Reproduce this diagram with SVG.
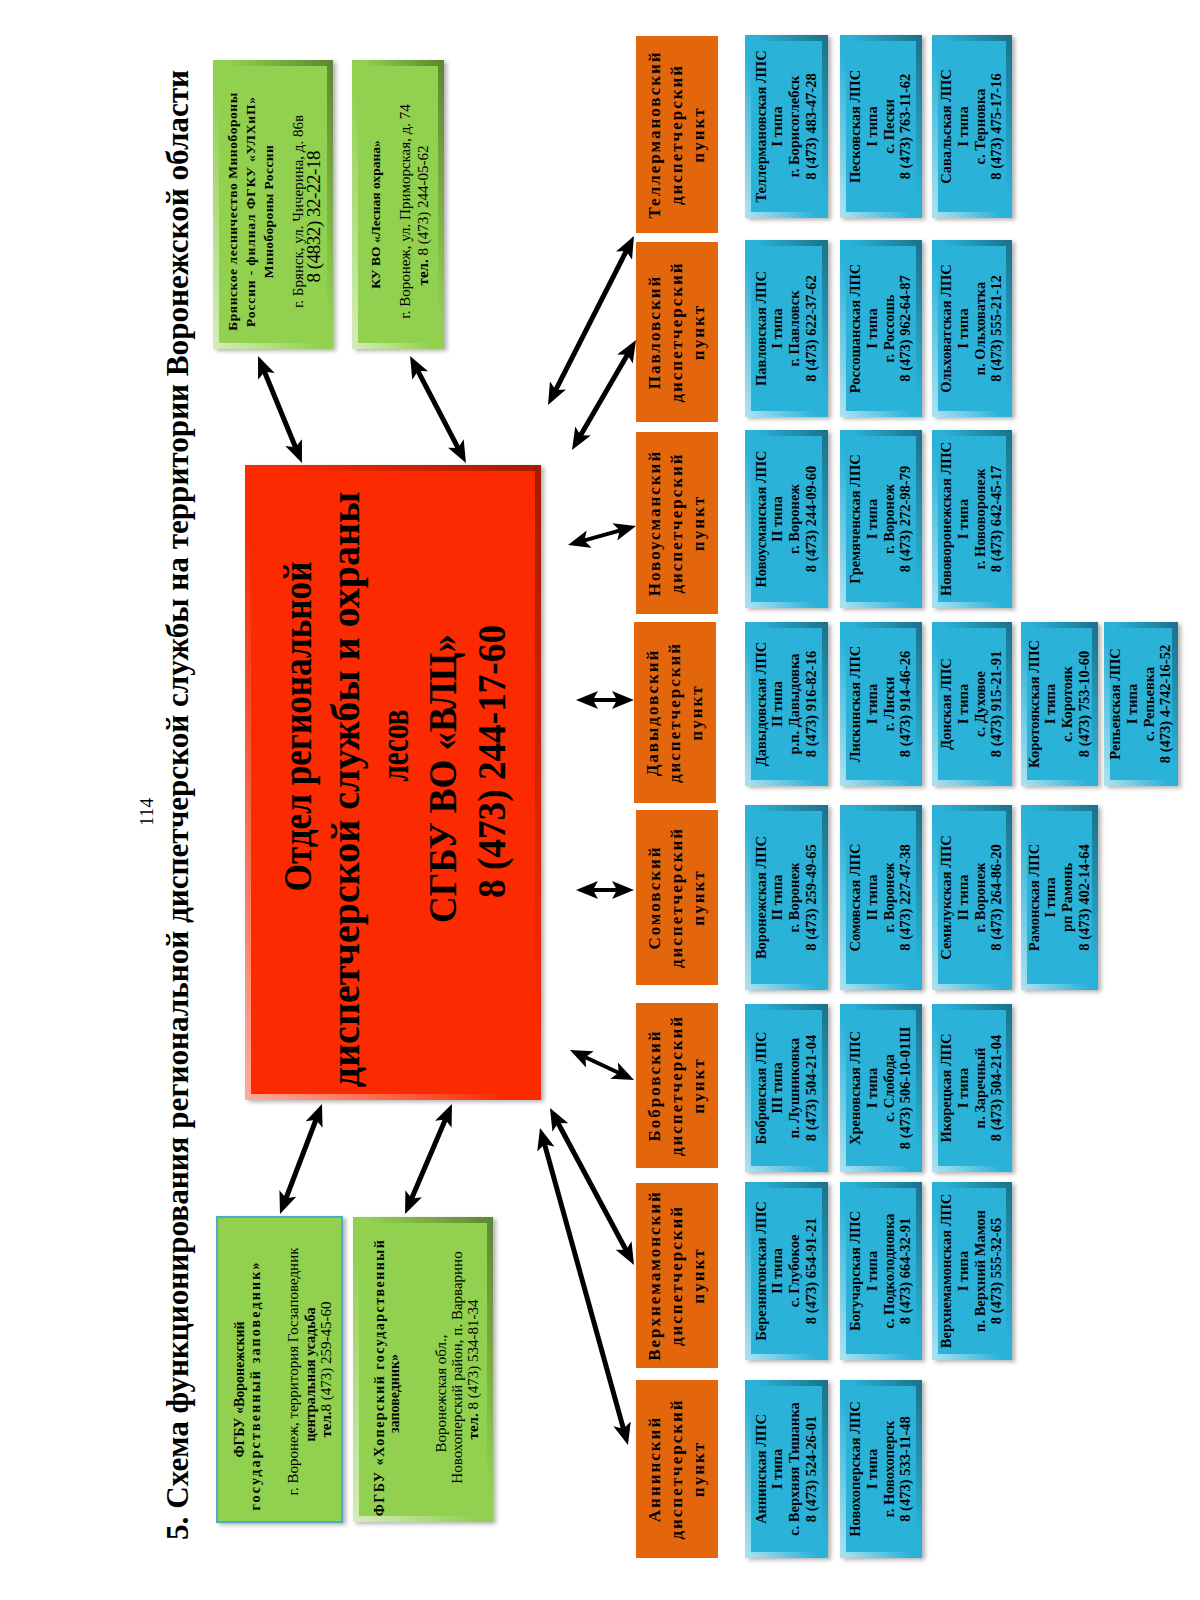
<svg xmlns="http://www.w3.org/2000/svg" width="1200" height="1600" viewBox="0 0 1200 1600">
<defs>
<linearGradient id="bevG" x1="0" y1="1" x2="1" y2="0">
<stop offset="0" stop-color="#fff" stop-opacity="0.6"/>
<stop offset="0.45" stop-color="#fff" stop-opacity="0"/>
<stop offset="0.55" stop-color="#000" stop-opacity="0"/>
<stop offset="1" stop-color="#000" stop-opacity="0.35"/>
</linearGradient>
<filter id="sh" x="-10%" y="-10%" width="130%" height="130%">
<feDropShadow dx="3" dy="2" stdDeviation="2" flood-color="#000" flood-opacity="0.3"/>
</filter>
<marker id="ah" viewBox="0 0 22 18" markerWidth="22" markerHeight="18" refX="15" refY="9" markerUnits="userSpaceOnUse" orient="auto-start-reverse">
<path d="M0,0 L22,9 L0,18 L5,9 Z" fill="#000"/>
</marker>
</defs>
<style>
.t{font-family:"Liberation Serif","Times New Roman",serif;fill:#000}
.bd{font-weight:bold}
.blue{fill:#2bb2d8;filter:url(#sh)}
.orange{fill:#e3660c}
.green{fill:#92d050;filter:url(#sh)}
.red{fill:#fb2b00;filter:url(#sh)}
.bev{fill:none;stroke:url(#bevG);stroke-width:6}
.arr{stroke:#000;stroke-width:5;fill:none;marker-start:url(#ah);marker-end:url(#ah)}
.arr2{stroke:#000;stroke-width:4;fill:none;marker-start:url(#ah);marker-end:url(#ah)}
.lp{font-size:14.5px;font-weight:bold}
.dp{font-size:17px;font-weight:bold;letter-spacing:2px}
.rd{font-size:40px;font-weight:bold}
</style>
<rect width="1200" height="1600" fill="#fff"/>

<text class="t" font-size="19" transform="translate(153,812) rotate(-90)" text-anchor="middle">114</text>
<text class="t bd" font-size="32" transform="translate(188,1540) rotate(-90)" textLength="1470" lengthAdjust="spacingAndGlyphs">5. Схема функционирования региональной диспетчерской службы на территории Воронежской области</text>

<g id="connectors">
<path class="arr" d="M260.7,362.5 L299.3,456.5"/>
<path class="arr" d="M413.3,362.2 L462.7,456.8"/>
<path class="arr" d="M282.5,1207.5 L319.5,1110.5"/>
<path class="arr" d="M407.8,1207.6 L449.2,1110.4"/>
<path class="arr" d="M551.2,398.8 L630.8,242.2"/>
<path class="arr" d="M575.5,444 L632.5,346"/>
<path class="arr2" d="M574.7,543.1 L629.3,527.9"/>
<path class="arr2" d="M583,700 L627,700"/>
<path class="arr2" d="M583,890 L627,890"/>
<path class="arr2" d="M576.3,1053 L627.7,1077"/>
<path class="arr" d="M553.3,1114.2 L630.7,1258.8"/>
<path class="arr" d="M541.9,1134.7 L626.1,1438.3"/>
</g>

<g id="green-bryansk">
<rect class="green" x="213" y="60" width="120" height="289"/>
<rect class="bev" x="216" y="63" width="114" height="283"/>
<text class="t" transform="translate(273,204.5) rotate(-90)" text-anchor="middle">
<tspan class="bd" font-size="13.5" x="-5" y="-36" textLength="238" lengthAdjust="spacing">Брянское лесничество Минобороны</tspan>
<tspan class="bd" font-size="13.5" x="-5" y="-18" textLength="230" lengthAdjust="spacing">России - филиал ФГКУ «УЛХиП»</tspan>
<tspan class="bd" font-size="13.5" x="-5" y="0" textLength="133" lengthAdjust="spacing">Минобороны России</tspan>
<tspan font-size="15" x="-5" y="30">г. Брянск, ул. Чичерина, д. 86в</tspan>
<tspan font-size="19" x="-12" y="47" textLength="132" lengthAdjust="spacing">8 (4832) 32-22-18</tspan>
</text>
</g>

<g id="green-kuvo">
<rect class="green" x="352" y="60" width="92" height="289"/>
<rect class="bev" x="355" y="63" width="86" height="283"/>
<text class="t" transform="translate(398,204.5) rotate(-90)" text-anchor="middle">
<tspan class="bd" font-size="13.5" x="-8" y="-18">КУ ВО «Лесная охрана»</tspan>
<tspan font-size="15" x="-5" y="12">г. Воронеж, ул. Приморская, д. 74</tspan>
<tspan font-size="15" x="-11" y="30"><tspan class="bd">тел.</tspan> 8 (473) 244-05-62</tspan>
</text>
</g>

<g id="green-vgpbz">
<rect class="green" x="217" y="1217" width="125" height="305" stroke="#4bacc6" stroke-width="2"/>
<text class="t" transform="translate(279.5,1369.5) rotate(-90)" text-anchor="middle">
<tspan class="bd" font-size="14" x="-18" y="-36">ФГБУ  «Воронежский</tspan>
<tspan class="bd" font-size="14" x="-14" y="-20" textLength="248" lengthAdjust="spacing">государственный заповедник»</tspan>
<tspan font-size="15" x="0" y="18">г. Воронеж, территория Госзаповедник</tspan>
<tspan class="bd" font-size="14" x="-3" y="35">центральная усадьба</tspan>
<tspan font-size="15" x="0" y="51"><tspan class="bd">тел.</tspan>8 (473) 259-45-60</tspan>
</text>
</g>

<g id="green-khoper">
<rect class="green" x="353" y="1217" width="140" height="305"/>
<rect class="bev" x="356" y="1220" width="134" height="299"/>
<text class="t" transform="translate(423,1369.5) rotate(-90)" text-anchor="middle">
<tspan class="bd" font-size="14" x="-6" y="-39" textLength="276" lengthAdjust="spacing">ФГБУ «Хоперский государственный</tspan>
<tspan class="bd" font-size="14" x="-22" y="-24">заповедник»</tspan>
<tspan font-size="15" x="-22" y="23">Воронежская обл.,</tspan>
<tspan font-size="15" x="4" y="39">Новохоперский район, п. Варварино</tspan>
<tspan font-size="15" x="0" y="55"><tspan class="bd">тел.</tspan> 8 (473) 534-81-34</tspan>
</text>
</g>

<g id="red-center">
<rect class="red" x="245" y="465" width="296" height="635"/>
<rect class="bev" x="248" y="468" width="290" height="629"/>
<text class="t rd" transform="translate(393,782.5) rotate(-90)" text-anchor="middle">
<tspan x="61" y="-82" textLength="330" lengthAdjust="spacingAndGlyphs">Отдел региональной</tspan>
<tspan x="-2" y="-34">диспетчерской службы и охраны</tspan>
<tspan x="42" y="15" textLength="72" lengthAdjust="spacingAndGlyphs">лесов</tspan>
<tspan x="9" y="63" textLength="289" lengthAdjust="spacingAndGlyphs">СГБУ ВО «ВЛЦ»</tspan>
<tspan x="21" y="112" textLength="273" lengthAdjust="spacingAndGlyphs">8 (473) 244-17-60</tspan>
</text>
</g>

<g id="dp-teller"><rect class="orange" x="636" y="36" width="82" height="197"/>
<text class="t dp" transform="translate(677,134.5) rotate(-90)" text-anchor="middle"><tspan x="0" y="-17">Теллермановский</tspan><tspan x="0" y="5">диспетчерский</tspan><tspan x="0" y="27">пункт</tspan></text></g>
<g id="dp-pavl"><rect class="orange" x="636" y="242" width="82" height="180"/>
<text class="t dp" transform="translate(677,332) rotate(-90)" text-anchor="middle"><tspan x="0" y="-17">Павловский</tspan><tspan x="0" y="5">диспетчерский</tspan><tspan x="0" y="27">пункт</tspan></text></g>
<g id="dp-novous"><rect class="orange" x="636" y="432" width="82" height="182"/>
<text class="t dp" transform="translate(677,523) rotate(-90)" text-anchor="middle"><tspan x="0" y="-17">Новоусманский</tspan><tspan x="0" y="5">диспетчерский</tspan><tspan x="0" y="27">пункт</tspan></text></g>
<g id="dp-davyd"><rect class="orange" x="634" y="622" width="82" height="181"/>
<text class="t dp" transform="translate(675,712.5) rotate(-90)" text-anchor="middle"><tspan x="0" y="-17">Давыдовский</tspan><tspan x="0" y="5">диспетчерский</tspan><tspan x="0" y="27">пункт</tspan></text></g>
<g id="dp-somov"><rect class="orange" x="636" y="810" width="82" height="175"/>
<text class="t dp" transform="translate(677,897.5) rotate(-90)" text-anchor="middle"><tspan x="0" y="-17">Сомовский</tspan><tspan x="0" y="5">диспетчерский</tspan><tspan x="0" y="27">пункт</tspan></text></g>
<g id="dp-bobr"><rect class="orange" x="636" y="1003" width="82" height="165"/>
<text class="t dp" transform="translate(677,1085.5) rotate(-90)" text-anchor="middle"><tspan x="0" y="-17">Бобровский</tspan><tspan x="0" y="5">диспетчерский</tspan><tspan x="0" y="27">пункт</tspan></text></g>
<g id="dp-verkh"><rect class="orange" x="636" y="1183" width="82" height="185"/>
<text class="t dp" transform="translate(677,1275.5) rotate(-90)" text-anchor="middle"><tspan x="0" y="-17">Верхнемамонский</tspan><tspan x="0" y="5">диспетчерский</tspan><tspan x="0" y="27">пункт</tspan></text></g>
<g id="dp-anna"><rect class="orange" x="636" y="1380" width="82" height="178"/>
<text class="t dp" transform="translate(677,1469) rotate(-90)" text-anchor="middle"><tspan x="0" y="-17">Аннинский</tspan><tspan x="0" y="5">диспетчерский</tspan><tspan x="0" y="27">пункт</tspan></text></g>

<g id="lps-teller"><rect class="blue" x="745" y="35" width="83" height="183"/><rect class="bev" x="748" y="38" width="77" height="177"/>
<text class="t lp" transform="translate(786.5,126.5) rotate(-90)" text-anchor="middle"><tspan x="0" y="-21">Теллермановская ЛПС</tspan><tspan x="0" y="-4.5">I типа</tspan><tspan x="0" y="12.5">г. Борисоглебск</tspan><tspan x="0" y="29">8 (473) 483-47-28</tspan></text></g>
<g id="lps-pavl"><rect class="blue" x="745" y="240" width="83" height="177"/><rect class="bev" x="748" y="243" width="77" height="171"/>
<text class="t lp" transform="translate(786.5,328.5) rotate(-90)" text-anchor="middle"><tspan x="0" y="-21">Павловская ЛПС</tspan><tspan x="0" y="-4.5">I типа</tspan><tspan x="0" y="12.5">г. Павловск</tspan><tspan x="0" y="29">8 (473) 622-37-62</tspan></text></g>
<g id="lps-novous"><rect class="blue" x="745" y="430" width="83" height="178"/><rect class="bev" x="748" y="433" width="77" height="172"/>
<text class="t lp" transform="translate(786.5,519) rotate(-90)" text-anchor="middle"><tspan x="0" y="-21">Новоусманская ЛПС</tspan><tspan x="0" y="-4.5">II типа</tspan><tspan x="0" y="12.5">г. Воронеж</tspan><tspan x="0" y="29">8 (473) 244-09-60</tspan></text></g>
<g id="lps-davyd"><rect class="blue" x="745" y="622" width="83" height="164"/><rect class="bev" x="748" y="625" width="77" height="158"/>
<text class="t lp" transform="translate(786.5,704) rotate(-90)" text-anchor="middle"><tspan x="0" y="-21">Давыдовская ЛПС</tspan><tspan x="0" y="-4.5">II типа</tspan><tspan x="0" y="12.5">р.п. Давыдовка</tspan><tspan x="0" y="29">8 (473) 916-82-16</tspan></text></g>
<g id="lps-voronezh"><rect class="blue" x="745" y="805" width="83" height="185"/><rect class="bev" x="748" y="808" width="77" height="179"/>
<text class="t lp" transform="translate(786.5,897.5) rotate(-90)" text-anchor="middle"><tspan x="0" y="-21">Воронежская ЛПС</tspan><tspan x="0" y="-4.5">II типа</tspan><tspan x="0" y="12.5">г. Воронеж</tspan><tspan x="0" y="29">8 (473) 259-49-65</tspan></text></g>
<g id="lps-bobr"><rect class="blue" x="745" y="1004" width="83" height="168"/><rect class="bev" x="748" y="1007" width="77" height="162"/>
<text class="t lp" transform="translate(786.5,1088) rotate(-90)" text-anchor="middle"><tspan x="0" y="-21">Бобровская ЛПС</tspan><tspan x="0" y="-4.5">III типа</tspan><tspan x="0" y="12.5">п. Лушниковка</tspan><tspan x="0" y="29">8 (473) 504-21-04</tspan></text></g>
<g id="lps-bereznyag"><rect class="blue" x="745" y="1182" width="83" height="178"/><rect class="bev" x="748" y="1185" width="77" height="172"/>
<text class="t lp" transform="translate(786.5,1271) rotate(-90)" text-anchor="middle"><tspan x="0" y="-21">Березняговская ЛПС</tspan><tspan x="0" y="-4.5">II типа</tspan><tspan x="0" y="12.5">с. Глубокое</tspan><tspan x="0" y="29">8 (473) 654-91-21</tspan></text></g>
<g id="lps-anna"><rect class="blue" x="745" y="1380" width="83" height="178"/><rect class="bev" x="748" y="1383" width="77" height="172"/>
<text class="t lp" transform="translate(786.5,1469) rotate(-90)" text-anchor="middle"><tspan x="0" y="-21">Аннинская ЛПС</tspan><tspan x="0" y="-4.5">I типа</tspan><tspan x="0" y="12.5">с. Верхняя Тишанка</tspan><tspan x="0" y="29">8 (473) 524-26-01</tspan></text></g>

<g id="lps-peski"><rect class="blue" x="840" y="35" width="82" height="183"/><rect class="bev" x="843" y="38" width="76" height="177"/>
<text class="t lp" transform="translate(881,126.5) rotate(-90)" text-anchor="middle"><tspan x="0" y="-21">Песковская ЛПС</tspan><tspan x="0" y="-4.5">I типа</tspan><tspan x="0" y="12.5">с. Пески</tspan><tspan x="0" y="29">8 (473) 763-11-62</tspan></text></g>
<g id="lps-rossosh"><rect class="blue" x="840" y="240" width="82" height="177"/><rect class="bev" x="843" y="243" width="76" height="171"/>
<text class="t lp" transform="translate(881,328.5) rotate(-90)" text-anchor="middle"><tspan x="0" y="-21">Россошанская ЛПС</tspan><tspan x="0" y="-4.5">I типа</tspan><tspan x="0" y="12.5">г. Россошь</tspan><tspan x="0" y="29">8 (473) 962-64-87</tspan></text></g>
<g id="lps-gremyach"><rect class="blue" x="840" y="430" width="82" height="178"/><rect class="bev" x="843" y="433" width="76" height="172"/>
<text class="t lp" transform="translate(881,519) rotate(-90)" text-anchor="middle"><tspan x="0" y="-21">Гремяченская ЛПС</tspan><tspan x="0" y="-4.5">I типа</tspan><tspan x="0" y="12.5">г. Воронеж</tspan><tspan x="0" y="29">8 (473) 272-98-79</tspan></text></g>
<g id="lps-liski"><rect class="blue" x="840" y="622" width="82" height="164"/><rect class="bev" x="843" y="625" width="76" height="158"/>
<text class="t lp" transform="translate(881,704) rotate(-90)" text-anchor="middle"><tspan x="0" y="-21">Лискинская ЛПС</tspan><tspan x="0" y="-4.5">I типа</tspan><tspan x="0" y="12.5">г. Лиски</tspan><tspan x="0" y="29">8 (473) 914-46-26</tspan></text></g>
<g id="lps-somov"><rect class="blue" x="840" y="805" width="82" height="185"/><rect class="bev" x="843" y="808" width="76" height="179"/>
<text class="t lp" transform="translate(881,897.5) rotate(-90)" text-anchor="middle"><tspan x="0" y="-21">Сомовская ЛПС</tspan><tspan x="0" y="-4.5">II типа</tspan><tspan x="0" y="12.5">г. Воронеж</tspan><tspan x="0" y="29">8 (473) 227-47-38</tspan></text></g>
<g id="lps-khren"><rect class="blue" x="840" y="1004" width="82" height="168"/><rect class="bev" x="843" y="1007" width="76" height="162"/>
<text class="t lp" transform="translate(881,1088) rotate(-90)" text-anchor="middle"><tspan x="0" y="-21">Хреновская ЛПС</tspan><tspan x="0" y="-4.5">I типа</tspan><tspan x="0" y="12.5">с. Слобода</tspan><tspan x="0" y="29">8 (473) 506-10-01Ш</tspan></text></g>
<g id="lps-boguchar"><rect class="blue" x="840" y="1182" width="82" height="178"/><rect class="bev" x="843" y="1185" width="76" height="172"/>
<text class="t lp" transform="translate(881,1271) rotate(-90)" text-anchor="middle"><tspan x="0" y="-21">Богучарская ЛПС</tspan><tspan x="0" y="-4.5">I типа</tspan><tspan x="0" y="12.5">с. Подколодновка</tspan><tspan x="0" y="29">8 (473) 664-32-91</tspan></text></g>
<g id="lps-novokhoper"><rect class="blue" x="840" y="1380" width="82" height="178"/><rect class="bev" x="843" y="1383" width="76" height="172"/>
<text class="t lp" transform="translate(881,1469) rotate(-90)" text-anchor="middle"><tspan x="0" y="-21">Новохоперская ЛПС</tspan><tspan x="0" y="-4.5">I типа</tspan><tspan x="0" y="12.5">г. Новохоперск</tspan><tspan x="0" y="29">8 (473) 533-11-48</tspan></text></g>

<g id="lps-saval"><rect class="blue" x="932" y="35" width="80" height="183"/><rect class="bev" x="935" y="38" width="74" height="177"/>
<text class="t lp" transform="translate(972,126.5) rotate(-90)" text-anchor="middle"><tspan x="0" y="-21">Савальская ЛПС</tspan><tspan x="0" y="-4.5">I типа</tspan><tspan x="0" y="12.5">с. Терновка</tspan><tspan x="0" y="29">8 (473) 475-17-16</tspan></text></g>
<g id="lps-olkhov"><rect class="blue" x="932" y="240" width="80" height="177"/><rect class="bev" x="935" y="243" width="74" height="171"/>
<text class="t lp" transform="translate(972,328.5) rotate(-90)" text-anchor="middle"><tspan x="0" y="-21">Ольховатская ЛПС</tspan><tspan x="0" y="-4.5">I типа</tspan><tspan x="0" y="12.5">п. Ольховатка</tspan><tspan x="0" y="29">8 (473) 555-21-12</tspan></text></g>
<g id="lps-novovor"><rect class="blue" x="932" y="430" width="80" height="178"/><rect class="bev" x="935" y="433" width="74" height="172"/>
<text class="t lp" transform="translate(972,519) rotate(-90)" text-anchor="middle"><tspan x="0" y="-21">Нововоронежская ЛПС</tspan><tspan x="0" y="-4.5">I типа</tspan><tspan x="0" y="12.5">г. Нововоронеж</tspan><tspan x="0" y="29">8 (473) 642-45-17</tspan></text></g>
<g id="lps-don"><rect class="blue" x="932" y="622" width="80" height="164"/><rect class="bev" x="935" y="625" width="74" height="158"/>
<text class="t lp" transform="translate(972,704) rotate(-90)" text-anchor="middle"><tspan x="0" y="-21">Донская ЛПС</tspan><tspan x="0" y="-4.5">I типа</tspan><tspan x="0" y="12.5">с. Духовое</tspan><tspan x="0" y="29">8 (473) 915-21-91</tspan></text></g>
<g id="lps-semil"><rect class="blue" x="932" y="805" width="80" height="185"/><rect class="bev" x="935" y="808" width="74" height="179"/>
<text class="t lp" transform="translate(972,897.5) rotate(-90)" text-anchor="middle"><tspan x="0" y="-21">Семилукская ЛПС</tspan><tspan x="0" y="-4.5">II типа</tspan><tspan x="0" y="12.5">г. Воронеж</tspan><tspan x="0" y="29">8 (473) 264-86-20</tspan></text></g>
<g id="lps-ikorets"><rect class="blue" x="932" y="1004" width="80" height="168"/><rect class="bev" x="935" y="1007" width="74" height="162"/>
<text class="t lp" transform="translate(972,1088) rotate(-90)" text-anchor="middle"><tspan x="0" y="-21">Икорецкая ЛПС</tspan><tspan x="0" y="-4.5">I типа</tspan><tspan x="0" y="12.5">п. Заречный</tspan><tspan x="0" y="29">8 (473) 504-21-04</tspan></text></g>
<g id="lps-verkhmam"><rect class="blue" x="932" y="1182" width="80" height="178"/><rect class="bev" x="935" y="1185" width="74" height="172"/>
<text class="t lp" transform="translate(972,1271) rotate(-90)" text-anchor="middle"><tspan x="0" y="-21">Верхнемамонская ЛПС</tspan><tspan x="0" y="-4.5">I типа</tspan><tspan x="0" y="12.5">п. Верхний Мамон</tspan><tspan x="0" y="29">8 (473) 555-32-65</tspan></text></g>

<g id="lps-korotoyak"><rect class="blue" x="1021" y="622" width="77" height="164"/><rect class="bev" x="1024" y="625" width="71" height="158"/>
<text class="t lp" transform="translate(1059.5,704) rotate(-90)" text-anchor="middle"><tspan x="0" y="-21">Коротоякская ЛПС</tspan><tspan x="0" y="-4.5">I типа</tspan><tspan x="0" y="12.5">с. Коротояк</tspan><tspan x="0" y="29">8 (473) 753-10-60</tspan></text></g>
<g id="lps-ramon"><rect class="blue" x="1021" y="805" width="77" height="185"/><rect class="bev" x="1024" y="808" width="71" height="179"/>
<text class="t lp" transform="translate(1059.5,897.5) rotate(-90)" text-anchor="middle"><tspan x="0" y="-21">Рамонская ЛПС</tspan><tspan x="0" y="-4.5">I типа</tspan><tspan x="0" y="12.5">рп Рамонь</tspan><tspan x="0" y="29">8 (473) 402-14-64</tspan></text></g>
<g id="lps-repyev"><rect class="blue" x="1104" y="622" width="74" height="164"/><rect class="bev" x="1107" y="625" width="68" height="158"/>
<text class="t lp" transform="translate(1141,704) rotate(-90)" text-anchor="middle"><tspan x="0" y="-21">Репьевская ЛПС</tspan><tspan x="0" y="-4.5">I типа</tspan><tspan x="0" y="12.5">с. Репьевка</tspan><tspan x="0" y="29">8 (473) 4-742-16-52</tspan></text></g>
</svg>
